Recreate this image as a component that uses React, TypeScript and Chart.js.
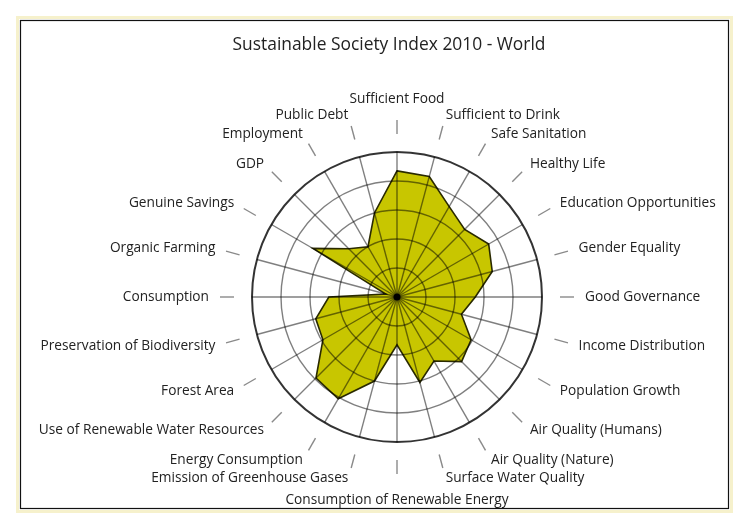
import React, { useEffect, useRef } from "react";
import { Chart, registerables } from "chart.js";

Chart.register(...registerables);

const TITLE = "Sustainable Society Index 2010 - World";

const categories = [
  "Sufficient Food",
  "Sufficient to Drink",
  "Safe Sanitation",
  "Healthy Life",
  "Education Opportunities",
  "Gender Equality",
  "Good Governance",
  "Income Distribution",
  "Population Growth",
  "Air Quality (Humans)",
  "Air Quality (Nature)",
  "Surface Water Quality",
  "Consumption of Renewable Energy",
  "Emission of Greenhouse Gases",
  "Energy Consumption",
  "Use of Renewable Water Resources",
  "Forest Area",
  "Preservation of Biodiversity",
  "Consumption",
  "Organic Farming",
  "Genuine Savings",
  "GDP",
  "Employment",
  "Public Debt",
];

const worldScores = [
  8.7, 8.6, 7.2, 6.6, 7.3, 6.8, 5.4, 4.6, 5.9, 6.3, 5.1, 6.1,
  3.3, 6.0, 8.1, 7.9, 5.9, 5.8, 4.7, 0.8, 6.7, 4.7, 4.0, 6.0,
];

const scaleMin = 0;
const scaleMax = 10;
const scaleStep = 2;

const W = 744;
const H = 522;
const FONT = '"Open Sans", "DejaVu Sans", sans-serif';

const decorPlugin = {
  id: "decor",
  beforeDraw(chart: any) {
    const ctx = chart.ctx;
    ctx.save();
    ctx.fillStyle = "#ffffff";
    ctx.fillRect(0, 0, W, H);
    ctx.restore();
  },
  afterDraw(chart: any) {
    const ctx = chart.ctx;
    const scale = chart.scales.r;
    const n = chart.data.labels.length;
    const R = scale.drawingArea;
    ctx.save();

    // frame
    ctx.strokeStyle = "rgba(240,232,170,0.6)";
    ctx.lineWidth = 3;
    ctx.strokeRect(17.5, 17.5, 714, 494);
    ctx.strokeStyle = "#111";
    ctx.lineWidth = 1.2;
    ctx.strokeRect(20.5, 20.5, 708, 488);

    // title
    ctx.fillStyle = "#222";
    ctx.font = `17.4px ${FONT}`;
    ctx.textAlign = "center";
    ctx.textBaseline = "middle";
    ctx.fillText(TITLE, 389, 45);

    // dashes and labels
    ctx.font = `13.7px ${FONT}`;
    for (let i = 0; i < n; i++) {
      const p1 = scale.getPointPosition(i, R + 18);
      const p2 = scale.getPointPosition(i, R + 32);
      ctx.strokeStyle = "#8a8a8a";
      ctx.lineWidth = 1.4;
      ctx.beginPath();
      ctx.moveTo(p1.x, p1.y);
      ctx.lineTo(p2.x, p2.y);
      ctx.stroke();

      const ang = scale.getIndexAngle(i);
      const s = Math.sin(ang);
      const c = Math.cos(ang);
      let dist = R + 43;
      if (Math.abs(s) < 0.05) dist = c > 0 ? R + 53 : R + 58;
      const lp = scale.getPointPosition(i, dist);
      ctx.textAlign = s > 0.05 ? "left" : s < -0.05 ? "right" : "center";
      ctx.textBaseline = "middle";
      ctx.fillStyle = "#222";
      ctx.fillText(chart.data.labels[i], lp.x, lp.y);
    }

    // center dot
    ctx.fillStyle = "#000";
    ctx.beginPath();
    ctx.arc(scale.xCenter, scale.yCenter, 3.5, 0, Math.PI * 2);
    ctx.fill();
    ctx.restore();
  },
};

export default function App() {
  const ref = useRef<HTMLCanvasElement | null>(null);

  useEffect(() => {
    if (!ref.current) return;
    const chart = new Chart(ref.current, {
      type: "radar",
      data: {
        labels: categories,
        datasets: [
          {
            label: "World",
            data: worldScores,
            fill: true,
            backgroundColor: "rgb(200,198,0)",
            borderColor: "#2a2a00",
            borderWidth: 1.6,
            pointRadius: 0,
            tension: 0,
          },
        ],
      },
      options: {
        responsive: false,
        animation: false,
        devicePixelRatio: 1,
        layout: { padding: { left: 252, top: 152, right: 202, bottom: 80 } },
        plugins: { legend: { display: false }, tooltip: { enabled: false }, title: { display: false } },
        scales: {
          r: {
            min: scaleMin,
            max: scaleMax,
            ticks: { stepSize: scaleStep, display: false, z: 1 },
            pointLabels: { display: false },
            grid: {
              z: 1,
              circular: true,
              color: (c: any) => (c.tick && c.tick.value === scaleMax ? "rgba(0,0,0,0.8)" : "rgba(0,0,0,0.5)"),
              lineWidth: (c: any) => (c.tick && c.tick.value === scaleMax ? 2 : 1.4),
            },
            angleLines: { color: "rgba(0,0,0,0.5)", lineWidth: 1.4 },
          },
        },
      },
      plugins: [decorPlugin],
    } as any);
    return () => chart.destroy();
  }, []);

  return (
    <div style={{ position: "absolute", left: 0, top: 0, width: W, height: H, background: "#fff" }}>
      <canvas ref={ref} width={W} height={H} style={{ display: "block" }} />
    </div>
  );
}
